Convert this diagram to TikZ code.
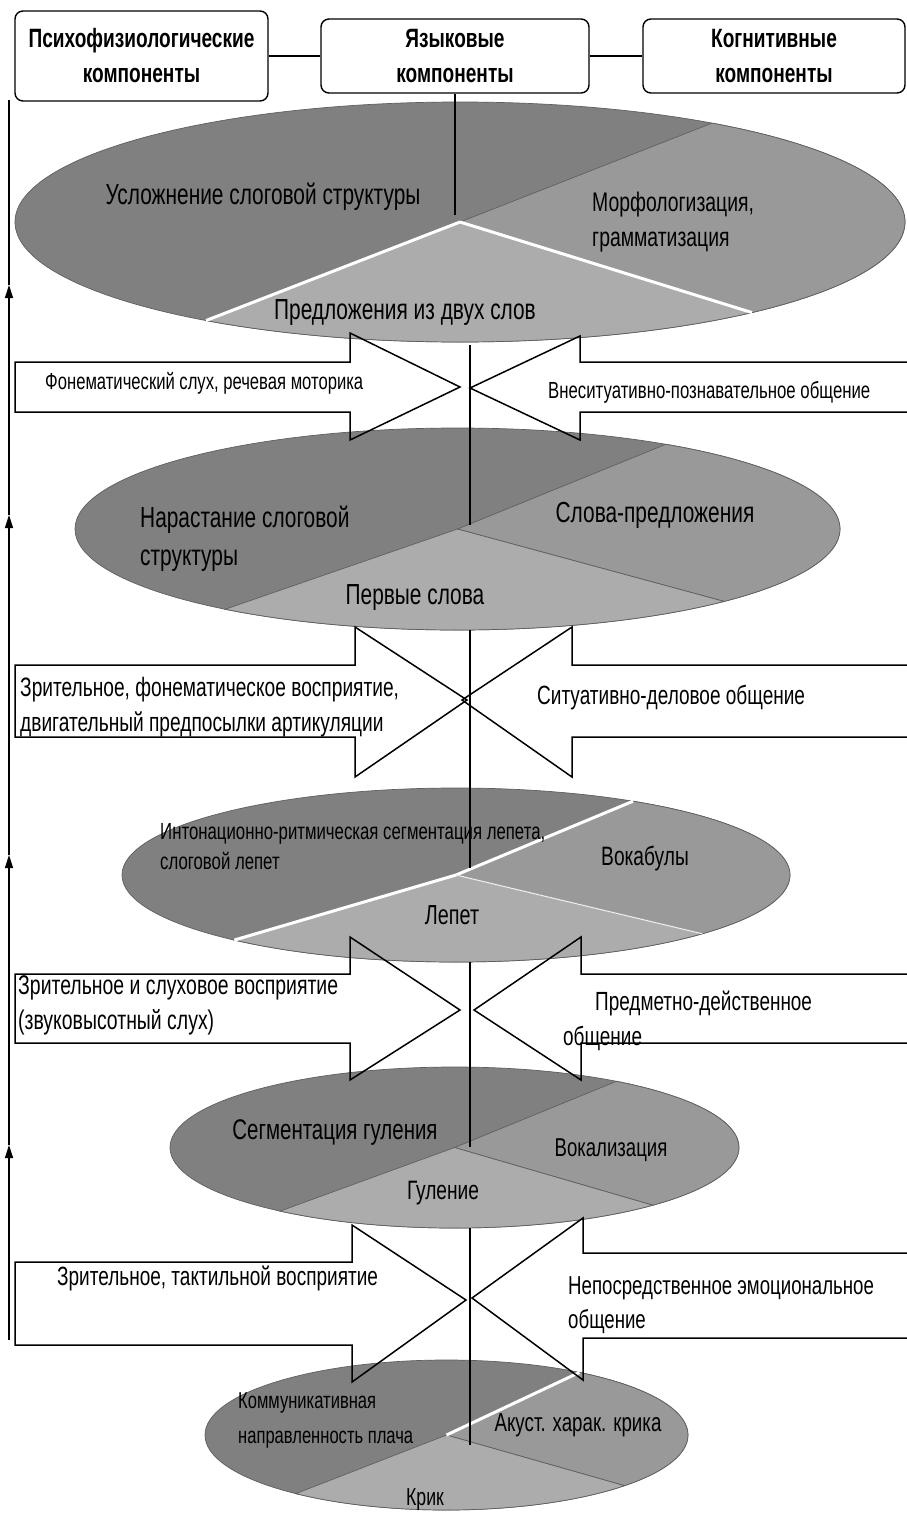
\documentclass[tikz,border=0pt]{standalone}
\usepackage{fontspec}
\setmainfont{Liberation Sans}[FakeStretch=0.72]
\usetikzlibrary{shapes.geometric,arrows.meta,calc}
\definecolor{segdark}{RGB}{128,128,128}
\definecolor{segmid}{RGB}{153,153,153}
\definecolor{seglight}{RGB}{172,172,172}
\definecolor{segline}{RGB}{95,95,95}
% cx cy rx ry start end colour
\newcommand{\pieseg}[7]{\fill[#7,draw=segline,line width=0.7pt] (#1,#2) -- ++(#5:#3 and #4) arc[start angle=#5,end angle=#6,x radius=#3,y radius=#4] -- cycle;}
\newcommand{\piegap}[5]{\draw[white,line width=3pt] (#1,#2) -- ++(#5:#3 and #4);}
\newcommand{\piethin}[5]{\draw[white!85!gray,line width=1.2pt] (#1,#2) -- ++(#5:#3 and #4);}
\newcommand{\fs}[2]{\fontsize{#1}{#2}\selectfont}
\begin{document}
\begin{tikzpicture}[x=1pt,y=-1pt,
  box/.style={draw,line width=1.4pt,rounded corners=8pt,inner sep=0,align=center,font=\bfseries\fs{26.5}{35}},
  elli/.style={ellipse,draw=segline,line width=0.7pt,fill=segdark,inner sep=0},
  blk/.style={draw,line width=1.5pt,line join=miter},
  conn/.style={draw,line width=1.8pt},
  fb/.style={draw,line width=1.3pt,-{Triangle[length=13pt,width=8pt]}},
  txt/.style={inner sep=0,align=left}]
\useasboundingbox (0,0) rectangle (907,1513);
\fill[white] (0,0) rectangle (907,1513);

% ---- ellipses (pies) ----
\node[elli,minimum width=890pt,minimum height=240pt] (e1) at (460,222) {};
\pieseg{460}{222}{445}{120}{-55.5}{49}{segmid}
\pieseg{460}{222}{445}{120}{49}{124.8}{seglight}
\piegap{460}{222}{445}{120}{49}
\piegap{460}{222}{445}{120}{124.8}

\node[elli,minimum width=765pt,minimum height=202pt] (e2) at (457.5,529) {};
\pieseg{457.5}{529}{382.5}{101}{-57}{45.8}{segmid}
\pieseg{457.5}{529}{382.5}{101}{45.8}{127.4}{seglight}

\node[elli,minimum width=668pt,minimum height=174pt] (e3) at (456,875) {};
\pieseg{456}{875}{334}{87}{-58}{42.5}{segmid}
\pieseg{456}{875}{334}{87}{42.5}{131.6}{seglight}
\piegap{456}{875}{334}{87}{-58}
\piegap{456}{875}{334}{87}{131.6}
\piethin{456}{875}{334}{87}{42.5}

\node[elli,minimum width=569pt,minimum height=161pt] (e4) at (454.5,1147.5) {};
\pieseg{454.5}{1147.5}{284.5}{80.5}{-55.3}{45.8}{segmid}
\pieseg{454.5}{1147.5}{284.5}{80.5}{45.8}{127.8}{seglight}

\node[elli,minimum width=483pt,minimum height=150pt] (e5) at (446.5,1435) {};
\pieseg{446.5}{1435}{241.5}{75}{-56.6}{42.5}{segmid}
\pieseg{446.5}{1435}{241.5}{75}{42.5}{128.6}{seglight}
\piegap{446.5}{1435}{241.5}{75}{-56.6}

% ---- top boxes ----
\node[box,minimum width=253pt,minimum height=90pt] (b1) at (141.5,56) {Психофизиологические\\компоненты};
\node[box,minimum width=268pt,minimum height=74pt] (b2) at (455,56) {Языковые\\компоненты};
\node[box,minimum width=262pt,minimum height=74pt] (b3) at (774,56) {Когнитивные\\компоненты};
\draw[conn] (b1.east) -- (b2.west);
\draw[conn] (b2.east) -- (b3.west);

% ---- central vertical line ----
\coordinate (p1) at (455,215);
\coordinate (q1) at (470,345);
\coordinate (p2) at (470,525);
\coordinate (q2) at (470,630);
\coordinate (p3) at (470,868);
\coordinate (q3) at (470,962);
\coordinate (p4) at (470,1147);
\coordinate (q4) at (470,1228);
\coordinate (p5) at (470,1445);
\draw[conn] (b2.south) -- (p1);
\draw[conn] (q1) -- (p2);
\draw[conn] (q2) -- (p3);
\draw[conn] (q3) -- (p4);
\draw[conn] (q4) -- (p5);

% ---- block arrows ----
% row 1
\draw[blk] (15,362) -- (350,362) -- (350,333) -- (460,387) -- (350,440) -- (350,412) -- (15,412) -- cycle;
\draw[blk] (907,362) -- (580,362) -- (580,336) -- (470,388) -- (580,440) -- (580,412) -- (907,412);
% row 2
\draw[blk] (15,665) -- (355,665) -- (355,627) -- (467,700) -- (355,777) -- (355,737) -- (15,737) -- cycle;
\draw[blk] (907,665) -- (572,665) -- (572,627) -- (462,700) -- (572,777) -- (572,737) -- (907,737);
% row 3
\draw[blk] (15,974) -- (350,974) -- (350,937) -- (460,1010) -- (350,1080) -- (350,1043) -- (15,1043) -- cycle;
\draw[blk] (907,974) -- (581,974) -- (581,937) -- (474,1010) -- (581,1080) -- (581,1043) -- (907,1043);
% row 4
\draw[blk] (15,1262) -- (352,1262) -- (352,1225) -- (466,1300) -- (352,1382) -- (352,1345) -- (15,1345) -- cycle;
\draw[blk] (907,1253) -- (583,1253) -- (583,1218) -- (472,1298) -- (583,1380) -- (583,1338) -- (907,1338);

% ---- feedback line on the left ----
\coordinate (f0) at (9,1340);
\coordinate (f1) at (9,1145);
\coordinate (f2) at (9,855);
\coordinate (f3) at (9,515);
\coordinate (f4) at (9,285);
\coordinate (f5) at (9,100);
\draw[fb] (f0) -- (f1);
\draw[fb] (f1) -- (f2);
\draw[fb] (f2) -- (f3);
\draw[fb] (f3) -- (f4);
\draw[conn,line width=1.3pt] (f4) -- (f5);

% ---- texts ----
\node[txt,font=\fs{29}{30}] (t11) at (263,197) {Усложнение слоговой структуры};
\node[txt,anchor=west,font=\fs{26.9}{35}] (t12) at (592,222) {Морфологизация,\\грамматизация};
\node[txt,font=\fs{29}{30}] (t13) at (405,313) {Предложения из двух слов};

\node[txt,anchor=west,font=\fs{23.1}{24}] (t21) at (45,383) {Фонематический слух, речевая моторика};
\node[txt,anchor=west,font=\fs{23.3}{24}] (t22) at (548,392) {Внеситуативно-познавательное общение};

\node[txt,anchor=west,font=\fs{29}{38}] (t31) at (140,539) {Нарастание слоговой\\структуры};
\node[txt,font=\fs{29}{30}] (t32) at (655,515) {Слова-предложения};
\node[txt,font=\fs{29}{30}] (t33) at (415,598) {Первые слова};

\node[txt,anchor=west,font=\fs{26.6}{35}] (t41) at (20,707) {Зрительное, фонематическое восприятие,\\двигательный предпосылки артикуляции};
\node[txt,anchor=west,font=\fs{26.4}{30}] (t42) at (537,698) {Ситуативно-деловое общение};

\node[txt,anchor=west,font=\fs{23.3}{30}] (t51) at (160,847) {Интонационно-ритмическая сегментация лепета,\\слоговой лепет};
\node[txt,font=\fs{26.6}{30}] (t52) at (645,858) {Вокабулы};
\node[txt,font=\fs{27.5}{30}] (t53) at (452,915) {Лепет};

\node[txt,anchor=west,font=\fs{27}{35}] (t61) at (18,1005) {Зрительное и слуховое восприятие\\(звуковысотный слух)};
\node[txt,anchor=west,font=\fs{26.3}{30}] (t62) at (595,1003) {Предметно-действенное};
\node[txt,anchor=west,font=\fs{26.3}{30}] (t63) at (563,1038) {общение};

\node[txt,font=\fs{28.4}{30}] (t71) at (335,1133) {Сегментация гуления};
\node[txt,font=\fs{25.8}{30}] (t72) at (611,1150) {Вокализация};
\node[txt,font=\fs{26.6}{30}] (t73) at (443,1193) {Гуление};

\node[txt,anchor=west,font=\fs{26.4}{30}] (t81) at (57,1278) {Зрительное, тактильной восприятие};
\node[txt,anchor=west,font=\fs{25.9}{34}] (t82) at (568,1305) {Непосредственное эмоциональное\\общение};

\node[txt,anchor=west,font=\fs{23}{35}] (t91) at (238,1420) {Коммуникативная\\направленность плача};
\node[txt,font=\fs{26}{30}] (t92) at (578,1425) {Акуст. харак. крика};
\node[txt,font=\fs{24.5}{30}] (t93) at (425,1500) {Крик};
\end{tikzpicture}
\end{document}
